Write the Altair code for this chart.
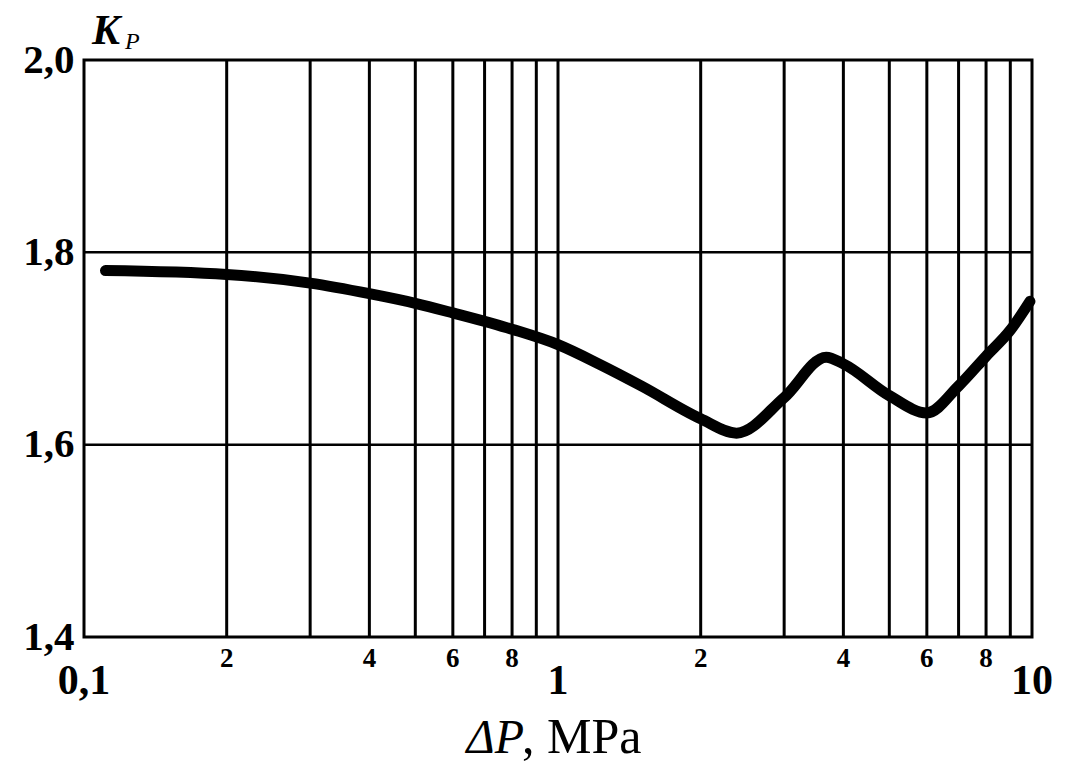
import altair as alt
import pandas as pd

# Curve data
dp = [0.111, 0.2, 0.3, 0.4, 0.5, 0.6, 0.8, 1.0, 1.23, 1.5, 2.0, 2.38, 3.0, 3.68, 4.0, 5.0, 6.0, 7.0, 8.0, 9.0, 9.9]
kp = [1.781, 1.777, 1.768, 1.757, 1.747, 1.737, 1.720, 1.704, 1.683, 1.661, 1.627, 1.612, 1.649, 1.691, 1.684, 1.651, 1.633, 1.661, 1.692, 1.719, 1.749]

# Grid / tick values
grid_x = [0.2, 0.3, 0.4, 0.5, 0.6, 0.7, 0.8, 0.9, 1, 2, 3, 4, 5, 6, 7, 8, 9]
grid_y = [1.6, 1.8]
y_ticks = [1.4, 1.6, 1.8, 2.0]
minor_lbl_x = [0.2, 0.4, 0.6, 0.8, 2, 4, 6, 8]
minor_lbl = ["2", "4", "6", "8", "2", "4", "6", "8"]
major_lbl_x = [0.1, 1, 10]
major_lbl = ["0,1", "1", "10"]

FONT = "Liberation Serif"
W, H = 948, 577

xscale = alt.Scale(type="log", domain=[0.1, 10], nice=False)
yscale = alt.Scale(domain=[1.4, 2.0], nice=False, zero=False)
yaxis = alt.Axis(values=y_ticks, labelExpr="replace(format(datum.value, '.1f'), '.', ',')",
                 labelFont=FONT, labelFontSize=41, labelFontWeight="bold", labelColor="black",
                 ticks=False, domain=False, grid=False, labelPadding=10, title=None)

curve = pd.DataFrame({"dp": dp, "kp": kp})
gx = pd.DataFrame({"gx": grid_x})
gy = pd.DataFrame({"gy": grid_y})
minor = pd.DataFrame({"x": minor_lbl_x, "t": minor_lbl})
major = pd.DataFrame({"x": major_lbl_x, "t": major_lbl})

vgrid = alt.Chart(gx).mark_rule(color="black", strokeWidth=3).encode(
    x=alt.X("gx:Q", scale=xscale, axis=None))
hgrid = alt.Chart(gy).mark_rule(color="black", strokeWidth=2.5).encode(
    y=alt.Y("gy:Q", scale=yscale, axis=yaxis))
line = alt.Chart(curve).mark_line(color="black", strokeWidth=11, interpolate="monotone",
                                  strokeCap="round", strokeJoin="round").encode(
    x=alt.X("dp:Q", scale=xscale, axis=None),
    y=alt.Y("kp:Q", scale=yscale, axis=yaxis))
minor_txt = alt.Chart(minor).mark_text(font=FONT, fontSize=27, fontWeight="bold",
                                       baseline="middle", align="center", color="black").encode(
    x=alt.X("x:Q", scale=xscale, axis=None), y=alt.value(599), text="t:N")
major_txt = alt.Chart(major).mark_text(font=FONT, fontSize=42, fontWeight="bold",
                                       baseline="middle", align="center", color="black").encode(
    x=alt.X("x:Q", scale=xscale, axis=None), y=alt.value(621), text="t:N")

k_title = alt.Chart(pd.DataFrame({"t": ["K"]})).mark_text(
    font=FONT, fontSize=42, fontStyle="italic", fontWeight="bold", align="left",
    baseline="alphabetic", color="black").encode(x=alt.value(8), y=alt.value(-16), text="t:N")
p_sub = alt.Chart(pd.DataFrame({"t": ["P"]})).mark_text(
    font=FONT, fontSize=24, fontStyle="italic", align="left",
    baseline="alphabetic", color="black").encode(x=alt.value(41), y=alt.value(-11), text="t:N")

xt1 = alt.Chart(pd.DataFrame({"t": ["ΔP"]})).mark_text(
    font=FONT, fontSize=48, fontStyle="italic", align="right", baseline="alphabetic",
    color="black").encode(x=alt.value(440), y=alt.value(693), text="t:N")
xt2 = alt.Chart(pd.DataFrame({"t": [", MPa"]})).mark_text(
    font=FONT, fontSize=50, align="left", baseline="alphabetic",
    color="black").encode(x=alt.value(438), y=alt.value(693), text="t:N")

chart = alt.layer(vgrid, hgrid, line, minor_txt, major_txt, k_title, p_sub, xt1, xt2).properties(
    width=W, height=H,
    autosize=alt.AutoSizeParams(type="none"),
    padding={"left": 84, "top": 60, "right": 41, "bottom": 131},
    background="white",
).configure_view(stroke="black", strokeWidth=3)

chart.save("out.html", embed_options={"renderer": "svg", "actions": False})
